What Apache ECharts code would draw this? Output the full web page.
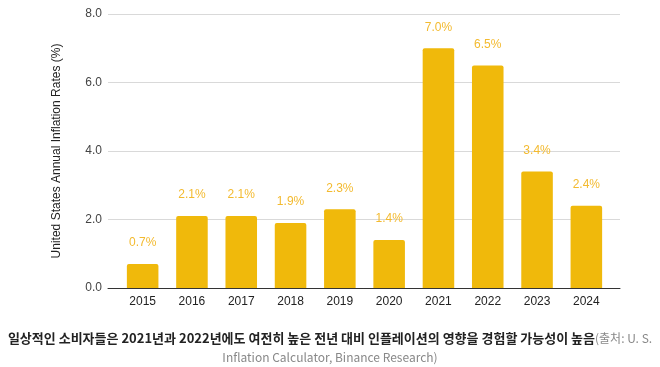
<!DOCTYPE html>
<html><head><meta charset="utf-8">
<script src="https://cdn.jsdelivr.net/npm/echarts@6/dist/echarts.min.js"></script>
<style>html,body{margin:0;padding:0;background:#fff}#c{width:660px;height:367px}</style>
</head><body><div id="c"></div>
<script>
const categories = ['2015','2016','2017','2018','2019','2020','2021','2022','2023','2024'];
const inflation = [0.7, 2.1, 2.1, 1.9, 2.3, 1.4, 7.0, 6.5, 3.4, 2.4];
const labelsText = ['0.7%','2.1%','2.1%','1.9%','2.3%','1.4%','7.0%','6.5%','3.4%','2.4%'];
const yTicks = [0, 2, 4, 6, 8];
const yTitle = 'United States Annual Inflation Rates (%)';
const captionBold = '일상적인 소비자들은 2021년과 2022년에도 여전히 높은 전년 대비 인플레이션의 영향을 경험할 가능성이 높음';
const captionSrc1 = '(출처: U. S.';
const captionSrc2 = 'Inflation Calculator, Binance Research)';

const chart = echarts.init(document.getElementById('c'));
const font = '"Liberation Sans", Arial, sans-serif';
chart.setOption({
  animation: false,
  textStyle: {fontFamily: font},
  title: {
    left: 'center', top: 324,
    text: '{b|' + captionBold + '}{g|' + captionSrc1 + '}\n{g|' + captionSrc2 + '}',
    textStyle: {
      fontWeight: 'normal',
      rich: {
        b: {fontFamily: '"Noto Sans CJK KR", sans-serif', fontWeight: 'bold', fontSize: 13, color: '#222', lineHeight: 19},
        g: {fontFamily: '"Noto Sans CJK KR", sans-serif', fontWeight: 'normal', fontSize: 12, color: '#888', lineHeight: 19}
      }
    }
  },
  grid: [
    {left: 108, right: 40, top: 14, bottom: 79},
    {left: 118, right: 49, top: 14, bottom: 79}
  ],
  xAxis: [
    {type: 'category', gridIndex: 0, data: categories, axisLine: {lineStyle: {color: '#333', width: 1}},
     axisTick: {show: false}, axisLabel: {show: false}},
    {type: 'category', gridIndex: 1, data: categories, axisLine: {show: false}, axisTick: {show: false},
     axisLabel: {color: '#222', fontSize: 12, margin: 8, fontFamily: font}}
  ],
  yAxis: [
    {type: 'value', gridIndex: 0, min: yTicks[0], max: yTicks[yTicks.length-1], interval: 2,
     name: yTitle, nameLocation: 'middle', nameGap: 45, nameRotate: 90,
     nameTextStyle: {color: '#222', fontSize: 12, fontFamily: font},
     axisLabel: {color: '#444', fontSize: 12, margin: 6, formatter: v => v.toFixed(1), fontFamily: font},
     axisLine: {show: false}, axisTick: {show: false},
     splitLine: {lineStyle: {color: '#d9d9d9', width: 1}}},
    {type: 'value', gridIndex: 1, min: yTicks[0], max: yTicks[yTicks.length-1], interval: 2, show: false}
  ],
  series: [{
    type: 'bar', xAxisIndex: 1, yAxisIndex: 1, data: inflation, barWidth: '64%',
    itemStyle: {color: '#F0B90B', borderRadius: [2,2,0,0]},
    label: {show: true, position: 'top', distance: 15, color: '#F3BA2F', fontSize: 12, fontFamily: font,
      formatter: p => labelsText[p.dataIndex]}
  }]
});
</script></body></html>
